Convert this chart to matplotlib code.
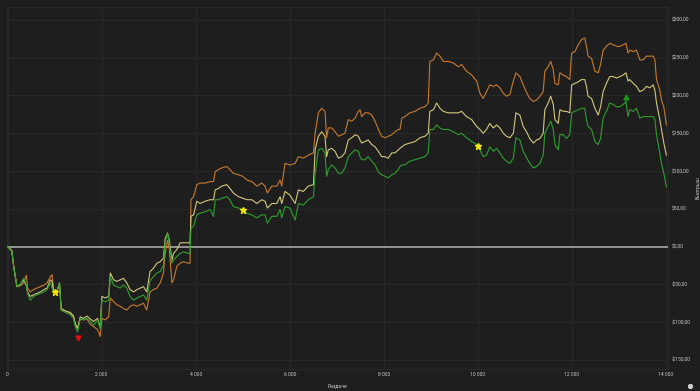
import numpy as np
import matplotlib
matplotlib.use("Agg")
import matplotlib.pyplot as plt
import matplotlib.transforms as mtransforms
from matplotlib.ticker import FuncFormatter, MultipleLocator
from matplotlib.lines import Line2D

# hands played (x) and the three cumulative win curves ($)
hands = [0, 90, 130, 165, 200, 270, 340, 400, 425, 480, 550, 620, 700, 770, 840, 910, 945, 980,
         1050, 1105, 1140, 1190, 1260, 1330, 1400, 1440, 1490, 1545, 1615, 1690, 1760, 1830, 1915,
         1970, 2005, 2075, 2150, 2185, 2255, 2325, 2395, 2465, 2535, 2605, 2680, 2750, 2820, 2890,
         2960, 3030, 3100, 3175, 3245, 3315, 3350, 3400, 3435, 3495, 3530, 3600, 3670, 3740, 3845,
         3880, 3900, 3955, 4025, 4095, 4200, 4305, 4380, 4415, 4485, 4555, 4660, 4730, 4800, 4910,
         5000, 5090, 5195, 5300, 5405, 5475, 5525, 5620, 5725, 5795, 5830, 5900, 6005, 6115, 6185,
         6290, 6395, 6505, 6540, 6610, 6680, 6750, 6785, 6820, 6895, 6965, 7035, 7105, 7175, 7245,
         7320, 7390, 7460, 7495, 7530, 7600, 7670, 7745, 7815, 7885, 7955, 8025, 8095, 8170, 8240,
         8310, 8345, 8385, 8450, 8555, 8665, 8770, 8875, 8945, 8980, 9055, 9125, 9195, 9265, 9370,
         9480, 9585, 9655, 9760, 9870, 9975, 10045, 10115, 10185, 10255, 10330, 10400, 10470, 10540,
         10610, 10680, 10755, 10810, 10895, 10965, 11035, 11105, 11180, 11250, 11320, 11390, 11425,
         11495, 11550, 11605, 11640, 11710, 11745, 11815, 11885, 11955, 11995, 12065, 12135, 12205,
         12275, 12310, 12345, 12420, 12490, 12560, 12610, 12665, 12735, 12805, 12880, 12950, 13020,
         13090, 13150, 13195, 13230, 13305, 13375, 13445, 13515, 13585, 13655, 13730, 13765, 13800,
         13870, 13905, 13955, 14010]

net_won = [0, -6, -26, -40, -53, -50, -42, -50, -62, -71, -66, -64, -62, -60, -57, -48, -55, -60,
           -60, -48, -84, -86, -88, -90, -95, -106, -113, -95, -97, -95, -99, -104, -97,
           -109, -71, -73, -71, -40, -51, -53, -55, -51, -55, -66, -71, -68, -66, -64,
           -71, -45, -40, -35, -33, -25, 5, 18, 5, -22, -18, -13, -9, -7, -9,
           -9, 24, 27, 42, 44, 46, 49, 40, 62, 62, 64, 66, 62, 53, 51,
           49, 44, 42, 38, 42, 42, 31, 40, 40, 49, 38, 53, 51, 35, 57,
           55, 62, 66, 97, 128, 130, 124, 93, 102, 108, 104, 97, 97, 104, 119,
           124, 128, 126, 119, 115, 115, 119, 113, 108, 99, 95, 93, 91, 95, 97,
           102, 106, 108, 108, 113, 115, 117, 119, 124, 155, 155, 161, 157, 155, 155,
           152, 148, 150, 144, 139, 135, 128, 119, 121, 132, 126, 130, 124, 117,
           113, 110, 117, 144, 141, 126, 118, 110, 104, 106, 110, 121, 150,
           159, 166, 155, 135, 128, 148, 148, 143, 148, 177, 179, 181, 183,
           183, 168, 159, 155, 139, 135, 143, 170, 179, 190, 188, 185, 185,
           188, 192, 172, 181, 179, 183, 170, 172, 172, 172, 172, 168, 148,
           124, 110, 97, 79]

showdown = [0, -5, -26, -40, -53, -50, -44, -52, -60, -66, -64, -62, -60, -57, -55, -44, -46, -59,
            -59, -48, -82, -84, -86, -87, -92, -102, -108, -93, -95, -92, -96, -99, -95,
            -107, -66, -68, -66, -35, -44, -46, -44, -42, -48, -57, -60, -57, -55, -53,
            -60, -33, -29, -22, -20, -15, 10, 18, 10, -18, -9, -4, 5, 5, 5,
            5, 40, 42, 60, 57, 60, 62, 62, 75, 77, 80, 82, 77, 71, 66,
            64, 62, 62, 57, 62, 60, 51, 57, 57, 66, 57, 73, 68, 57, 75,
            73, 80, 82, 128, 146, 152, 146, 119, 128, 130, 126, 117, 119, 124, 141,
            144, 148, 146, 141, 137, 139, 141, 135, 132, 126, 119, 119, 117, 124, 124,
            128, 130, 132, 135, 137, 139, 144, 146, 150, 179, 181, 190, 183, 179, 177,
            177, 177, 179, 172, 168, 159, 155, 150, 155, 163, 157, 161, 157, 150,
            146, 144, 150, 177, 174, 159, 152, 143, 137, 141, 143, 150, 181,
            190, 199, 188, 168, 163, 181, 179, 179, 177, 214, 216, 218, 221,
            221, 212, 199, 196, 183, 174, 185, 205, 216, 225, 225, 223, 225,
            227, 230, 219, 221, 216, 212, 205, 207, 212, 210, 214, 207, 190,
            168, 155, 137, 121]

ev_adjusted = [0, -6, -26, -40, -53, -52, -48, -38, -55, -60, -57, -55, -53, -51, -48, -40, -37, -58,
               -59, -50, -84, -84, -86, -88, -92, -103, -109, -96, -97, -96, -103, -106, -110,
               -119, -95, -97, -93, -68, -73, -77, -79, -82, -84, -79, -77, -79, -77, -75,
               -84, -60, -57, -55, -48, -35, -10, 8, 0, -48, -44, -26, -22, -20, -22,
               -22, 62, 66, 82, 84, 84, 86, 86, 99, 102, 104, 106, 102, 97, 95,
               93, 88, 86, 80, 84, 80, 71, 80, 80, 88, 80, 110, 108, 110, 119,
               117, 121, 124, 150, 177, 183, 179, 144, 157, 157, 152, 146, 148, 150, 168,
               166, 170, 179, 181, 172, 177, 177, 174, 166, 155, 146, 144, 146, 148, 152,
               155, 155, 170, 172, 177, 179, 183, 185, 190, 245, 247, 256, 252, 245, 245,
               243, 238, 241, 232, 227, 219, 203, 196, 205, 214, 212, 214, 210, 203,
               199, 201, 219, 230, 225, 214, 204, 196, 192, 194, 199, 205, 232,
               238, 245, 234, 216, 214, 230, 227, 225, 221, 256, 258, 267, 274,
               276, 265, 252, 249, 232, 230, 241, 260, 265, 269, 267, 265, 265,
               267, 269, 256, 260, 258, 260, 247, 247, 252, 252, 252, 247, 221,
               207, 194, 185, 161]

milestones = [1000, 5000, 10000]

x_ticks = [0, 2000, 4000, 6000, 8000, 10000, 12000, 14000]
x_label = "Раздачи"
y_label = "Выигрыш"

bg = "#1e1e1e"
grid_col = "#2b2b2b"
text_col = "#c8c8c8"

plt.rcParams['font.family'] = ['Roboto', 'DejaVu Sans']

fig = plt.figure(figsize=(7, 3.91), dpi=100, facecolor=bg)
ax = fig.add_axes([0.0104, 0.0563, 0.9436, 0.9257], facecolor=bg)

h = np.array(hands)
g = np.array(net_won)

ax.axhline(0, color="#a8a8a8", lw=1.2, zorder=2)
ax.plot(h, ev_adjusted, color="#c77a2e", lw=0.8, zorder=3)
ax.plot(h, showdown, color="#d2c67c", lw=0.8, zorder=4)
ax.plot(h, net_won, color="#2e9e2e", lw=0.8, zorder=5)

# milestone stars on the main curve
ax.plot(milestones, np.interp(milestones, h, g), linestyle="none", marker="*",
        color="#f5e60a", ms=5, zorder=6)

# min / max markers, nudged off the line
down = ax.transData + mtransforms.ScaledTranslation(0, -4 / 72, fig.dpi_scale_trans)
up = ax.transData + mtransforms.ScaledTranslation(0, 3 / 72, fig.dpi_scale_trans)
i_min = int(np.argmin(g))
i_max = int(np.argmax(g))
ax.plot([h[i_min]], [g[i_min]], marker="v", color="#e01010", ms=3.5, transform=down, zorder=6)
ax.plot([h[i_max]], [g[i_max]], marker="^", color="#1a9a1a", ms=3.5, transform=up, zorder=6)

ax.set_xlim(-6, 14040)
ax.set_ylim(-162, 317)
ax.set_xticks(x_ticks)
ax.xaxis.set_major_formatter(FuncFormatter(lambda v, p: f"{int(v):,}".replace(",", " ")))
ax.yaxis.set_major_locator(MultipleLocator(50))
ax.yaxis.set_major_formatter(FuncFormatter(
    lambda v, p: ("-" if v < 0 else "") + f"${abs(v):.2f}".replace(".", ",")))
ax.yaxis.tick_right()
ax.yaxis.set_label_position("right")

ax.tick_params(axis="both", length=0, colors=text_col, labelsize=3.6)
ax.tick_params(axis="y", pad=3)
ax.tick_params(axis="x", pad=2.5)
ax.grid(True, color=grid_col, lw=0.6)
ax.set_axisbelow(True)
for s in ax.spines.values():
    s.set_color(grid_col)
    s.set_linewidth(0.6)

ax.set_xlabel(x_label, color=text_col, fontsize=3.6, labelpad=4)
ax.set_ylabel(y_label, color=text_col, fontsize=3.6, labelpad=3)

# little info icon in the corner
fig.add_artist(Line2D([0.986], [0.013], marker="o", color="#cfcfcf", ms=2.8,
                      transform=fig.transFigure))

fig.savefig("out.png", dpi=100, facecolor=bg)
